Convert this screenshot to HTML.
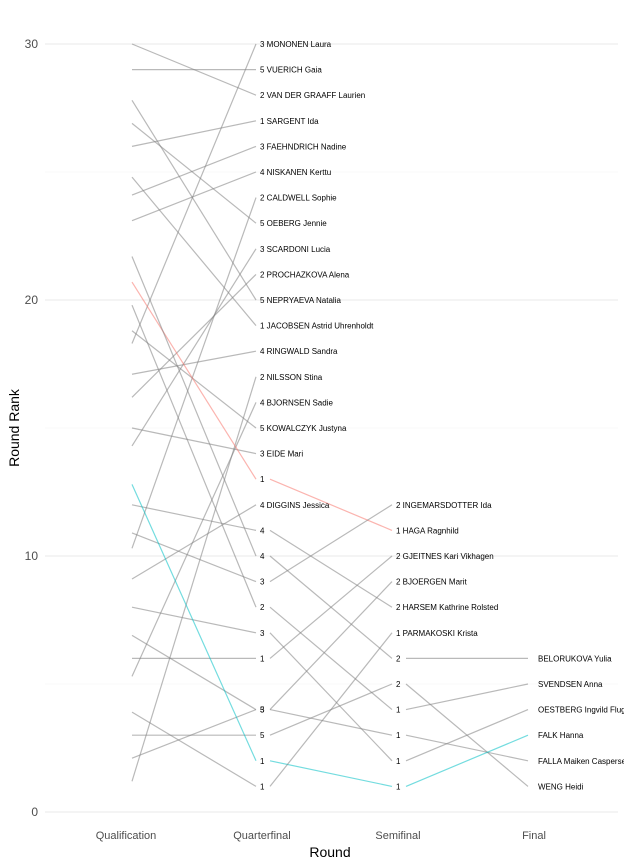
<!DOCTYPE html>
<html><head><meta charset="utf-8"><style>
body{margin:0;background:#fff}
svg{display:block;font-family:"Liberation Sans",sans-serif}
</style></head><body>
<svg id="chart" width="624" height="864" viewBox="0 0 624 864">
<g id="grid"></g>
<g id="lines"></g>
<g id="labels"></g>
<g id="axes"></g>
<text x="330" y="857" font-size="14" text-anchor="middle" fill="#000">Round</text>
<text x="0" y="0" font-size="14" text-anchor="middle" fill="#000" transform="translate(19,428) rotate(-90)">Round Rank</text>
</svg>
<script>
const rounds = ["Qualification","Quarterfinal","Semifinal","Final"];
const yTicks = [0,10,20,30];
const names = ["MONONEN Laura","VUERICH Gaia","VAN DER GRAAFF Laurien","SARGENT Ida","FAEHNDRICH Nadine","NISKANEN Kerttu","CALDWELL Sophie","OEBERG Jennie","SCARDONI Lucia","PROCHAZKOVA Alena","NEPRYAEVA Natalia","JACOBSEN Astrid Uhrenholdt","RINGWALD Sandra","NILSSON Stina","BJORNSEN Sadie","KOWALCZYK Justyna","EIDE Mari","HAGA Ragnhild","DIGGINS Jessica","INGEMARSDOTTER Ida","HARSEM Kathrine Rolsted","BELORUKOVA Yulia","SVENDSEN Anna","OESTBERG Ingvild Flugstad","GJEITNES Kari Vikhagen","BJOERGEN Marit","FALLA Maiken Caspersen","WENG Heidi","FALK Hanna","PARMAKOSKI Krista"];
const qualRank = [18.3,29,30,26,24.1,23.1,10.3,26.9,14.3,16.2,27.8,24.8,17.1,1.2,5.3,18.8,15,20.7,9.1,10.9,12,21.7,19.8,8,6,6.9,2.1,3,12.8,3.9];
const qfRank = [30,29,28,27,26,25,24,23,22,21,20,19,18,17,16,15,14,13,12,9,11,10,8,7,6,4,4,3,2,1];
const qfHeat = [3,5,2,1,3,4,2,5,3,2,5,1,4,2,4,5,3,1,4,3,4,4,2,3,1,3,5,5,1,1];
const sfRank = [null,null,null,null,null,null,null,null,null,null,null,null,null,null,null,null,null,11,null,12,8,6,4,2,10,9,3,5,1,7];
const sfHeat = [null,null,null,null,null,null,null,null,null,null,null,null,null,null,null,null,null,1,null,2,2,2,1,1,2,2,1,2,1,1];
const finalRank = [null,null,null,null,null,null,null,null,null,null,null,null,null,null,null,null,null,null,null,null,null,6,5,4,null,null,2,1,3,null];
const group = ["g","g","g","g","g","g","g","g","g","g","g","g","g","g","g","g","g","r","g","g","g","g","g","g","g","g","g","g","c","g"];

const NS="http://www.w3.org/2000/svg";
const xPos = i => 126 + i*136;
const yPos = v => 812 - v*25.6;
const col = {g:"#808080", r:"#F8766D", c:"#00BFC4"};
function mk(tag, attrs, parent){const e=document.createElementNS(NS,tag);for(const k in attrs)e.setAttribute(k,attrs[k]);parent.appendChild(e);return e;}
const grid=document.getElementById('grid'), lines=document.getElementById('lines'), labels=document.getElementById('labels'), axes=document.getElementById('axes');

for(let v=0; v<=30; v+=5){
  const g=mk('line',{x1:45,x2:618,y1:yPos(v),y2:yPos(v),stroke:v%10===0?"#e8e8e8":"#f3f3f3","stroke-width":v%10===0?1:0.6},grid);
  
  
}
yTicks.forEach(t=>{
  const e=mk('text',{x:38,y:yPos(t)+4,"font-size":12,"text-anchor":"end",fill:"#4d4d4d"},axes);
  e.textContent=t;
  
  
});
rounds.forEach((r,i)=>{
  const e=mk('text',{x:xPos(i),y:839,"font-size":11,"text-anchor":"middle",fill:"#4d4d4d"},axes);
  e.textContent=r;
  
  
});

function seg(a,va,b,vb,c){
  const l=mk('line',{x1:xPos(a)+(a===0?6:8),y1:yPos(va),x2:xPos(b)-6,y2:yPos(vb),stroke:col[c],"stroke-opacity":0.55,"stroke-width":1.2},lines);
  
  
}
function lab(i,v,txt){
  const t=mk('text',{x:xPos(i)-2,y:yPos(v)+3,"font-size":8,fill:"#000"},labels);
  t.textContent=txt;
  
  
}
names.forEach((n,k)=>{
  const c=group[k];
  seg(0,qualRank[k],1,qfRank[k],c);
  if(sfRank[k]===null){ lab(1,qfRank[k],qfHeat[k]+" "+n); return; }
  lab(1,qfRank[k],String(qfHeat[k]));
  seg(1,qfRank[k],2,sfRank[k],c);
  if(finalRank[k]===null){ lab(2,sfRank[k],sfHeat[k]+" "+n); return; }
  lab(2,sfRank[k],String(sfHeat[k]));
  seg(2,sfRank[k],3,finalRank[k],c);
  const t=mk('text',{x:xPos(3)+4,y:yPos(finalRank[k])+3,"font-size":8,fill:"#000"},labels);
  t.textContent=n;
  
  
});
</script>
</body></html>
